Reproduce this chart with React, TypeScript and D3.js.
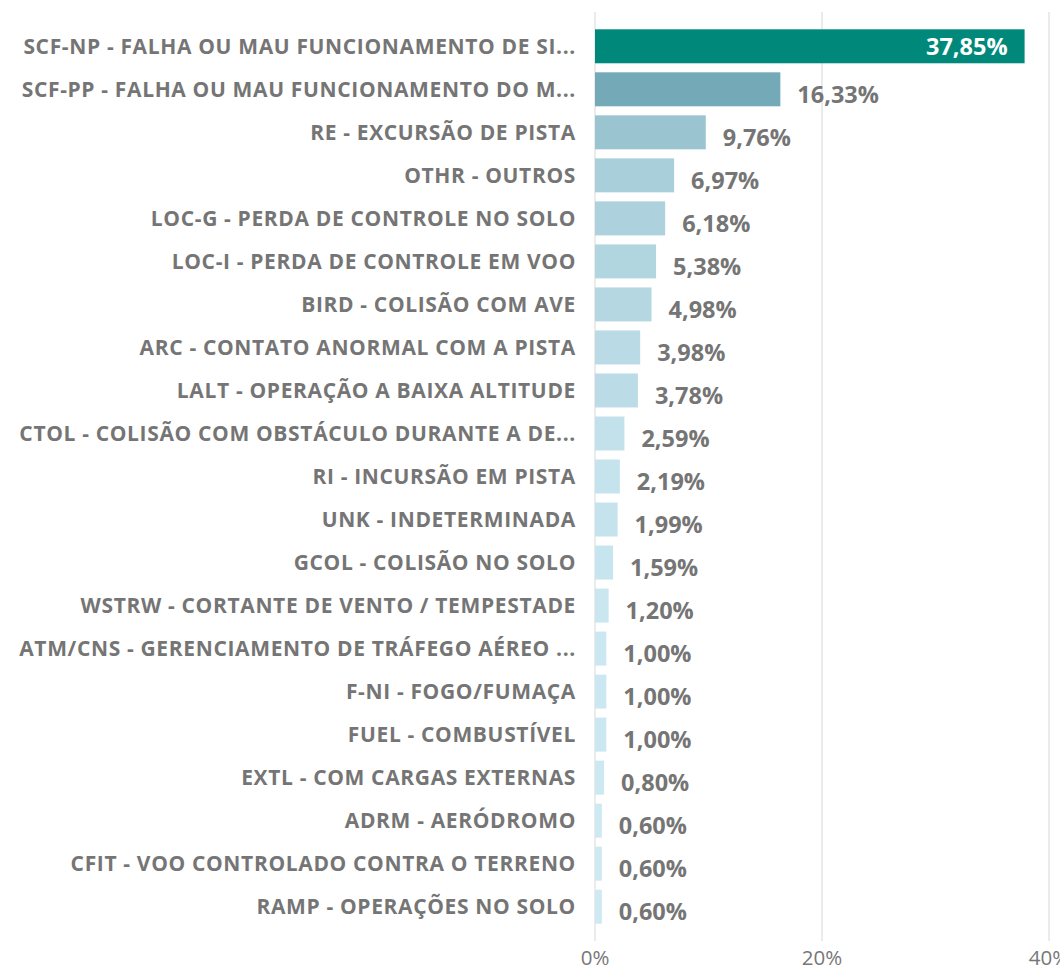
import React, { useEffect, useRef } from 'react';
import * as d3 from 'd3';

const categories = [
  'SCF-NP - FALHA OU MAU FUNCIONAMENTO DE SI...',
  'SCF-PP - FALHA OU MAU FUNCIONAMENTO DO M...',
  'RE - EXCURSÃO DE PISTA',
  'OTHR - OUTROS',
  'LOC-G - PERDA DE CONTROLE NO SOLO',
  'LOC-I - PERDA DE CONTROLE EM VOO',
  'BIRD - COLISÃO COM AVE',
  'ARC - CONTATO ANORMAL COM A PISTA',
  'LALT - OPERAÇÃO A BAIXA ALTITUDE',
  'CTOL - COLISÃO COM OBSTÁCULO DURANTE A DE...',
  'RI - INCURSÃO EM PISTA',
  'UNK - INDETERMINADA',
  'GCOL - COLISÃO NO SOLO',
  'WSTRW - CORTANTE DE VENTO / TEMPESTADE',
  'ATM/CNS - GERENCIAMENTO DE TRÁFEGO AÉREO ...',
  'F-NI - FOGO/FUMAÇA',
  'FUEL - COMBUSTÍVEL',
  'EXTL - COM CARGAS EXTERNAS',
  'ADRM - AERÓDROMO',
  'CFIT - VOO CONTROLADO CONTRA O TERRENO',
  'RAMP - OPERAÇÕES NO SOLO',
];

const values = [
  37.85, 16.33, 9.76, 6.97, 6.18, 5.38, 4.98, 3.98, 3.78, 2.59, 2.19,
  1.99, 1.59, 1.2, 1.0, 1.0, 1.0, 0.8, 0.6, 0.6, 0.6,
];

const ticks = [0, 20, 40];

const W = 1060;
const H = 971;

const fmt = (v: number) => v.toFixed(2).replace('.', ',') + '%';

export default function App() {
  const ref = useRef<SVGSVGElement>(null);

  useEffect(() => {
    const svg = d3.select(ref.current);
    svg.selectAll('*').remove();

    const rows = categories.map((c, i) => ({ name: c, value: values[i] }));

    const x = d3.scaleLinear().domain([0, 40]).range([595, 1049]);
    const y = d3.scaleBand<string>()
      .domain(categories)
      .range([25, 928])
      .paddingInner(0.21)
      .paddingOuter(0.1);

    const color = d3.scaleLinear<string>()
      .domain([0.6, 16.33])
      .range(['#cde9f2', '#74a9b8']);

    const font = "'Open Sans', 'Noto Sans', sans-serif";

    // grid
    svg.append('g')
      .selectAll('line')
      .data(ticks)
      .join('line')
      .attr('x1', d => x(d))
      .attr('x2', d => x(d))
      .attr('y1', 12)
      .attr('y2', 941)
      .attr('stroke', '#e4e4e4')
      .attr('stroke-width', 1.5);

    svg.append('g')
      .selectAll('text')
      .data(ticks)
      .join('text')
      .attr('x', d => x(d))
      .attr('y', 965)
      .attr('text-anchor', 'middle')
      .attr('font-family', font)
      .attr('font-size', 20.5)
      .attr('fill', '#777')
      .text(d => d + '%');

    // bars
    svg.append('g')
      .selectAll('rect')
      .data(rows)
      .join('rect')
      .attr('x', x(0))
      .attr('y', d => y(d.name)!)
      .attr('width', d => x(d.value) - x(0))
      .attr('height', y.bandwidth())
      .attr('fill', (d, i) => i === 0 ? '#00897b' : color(d.value));

    // category labels
    svg.append('g')
      .selectAll('text')
      .data(rows)
      .join('text')
      .attr('x', 576)
      .attr('y', d => y(d.name)! + y.bandwidth() / 2)
      .attr('dy', '0.36em')
      .attr('text-anchor', 'end')
      .attr('font-family', font)
      .attr('font-weight', 'bold')
      .attr('font-size', 21)
      .attr('letter-spacing', 0.65)
      .attr('fill', '#757575')
      .text(d => d.name);

    // value labels
    svg.append('g')
      .selectAll('text')
      .data(rows)
      .join('text')
      .attr('x', (d, i) => i === 0 ? x(d.value) - 17 : x(d.value) + 17)
      .attr('y', (d, i) => y(d.name)! + y.bandwidth() / 2 + (i === 0 ? 0 : 5))
      .attr('dy', '0.36em')
      .attr('text-anchor', (d, i) => i === 0 ? 'end' : 'start')
      .attr('font-family', font)
      .attr('font-weight', 'bold')
      .attr('font-size', 23.5)
      .attr('fill', (d, i) => i === 0 ? '#ffffff' : '#757575')
      .text(d => fmt(d.value));
  }, []);

  return (
    <svg
      ref={ref}
      width={W}
      height={H}
      style={{ position: 'absolute', left: 0, top: 0, background: '#fff' }}
    />
  );
}
